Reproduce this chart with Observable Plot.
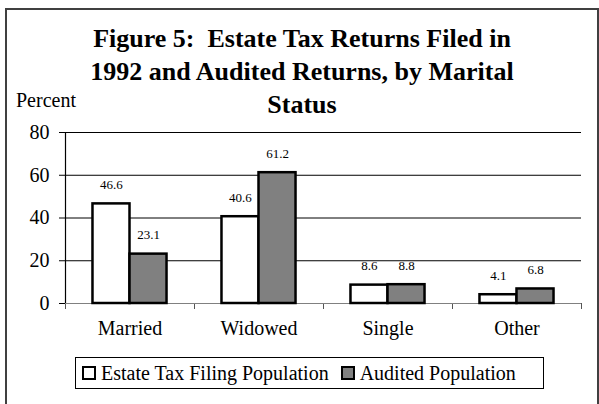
<!DOCTYPE html>
<html>
<head>
<meta charset="utf-8">
<script src="https://cdn.jsdelivr.net/npm/d3@7"></script>
<script src="https://cdn.jsdelivr.net/npm/@observablehq/plot@0.6"></script>
<style>
  html, body { margin: 0; padding: 0; background: #fff; overflow: hidden; }
  #wrap { position: relative; width: 599px; height: 404px; overflow: hidden; font-family: "Liberation Serif", "Times New Roman", serif; color: #000; }
  #border { position: absolute; left: 5px; top: 8px; width: 594px; height: 420px; border: 2px solid #404040; box-sizing: border-box; }
  #title { position: absolute; left: 0; width: 604px; top: 22px; text-align: center; font-weight: bold; font-size: 26px; line-height: 33px; }
  #ylabel { position: absolute; left: 16px; top: 90px; font-size: 20px; line-height: 20px; }
  #chart { position: absolute; left: 0; top: 118px; }
  #legend { position: absolute; left: 75px; top: 357px; width: 469px; height: 32px; border: 1px solid #000; box-sizing: border-box; display: flex; align-items: center; padding-left: 6px; font-size: 20px; white-space: nowrap; }
  .sw { display: inline-block; width: 14px; height: 14px; border: 2.5px solid #000; box-sizing: border-box; margin-right: 5px; }
  .item { display: flex; align-items: center; margin-right: 12px; }
</style>
</head>
<body>
<div id="wrap">
  <div id="border"></div>
  <div id="title">Figure 5:&nbsp; Estate Tax Returns Filed in<br>1992 and Audited Returns, by Marital<br>Status</div>
  <div id="ylabel">Percent</div>
  <div id="chart"></div>
  <div id="legend"></div>
</div>
<script>
// ---- data ----
const categories = ["Married", "Widowed", "Single", "Other"];
const seriesNames = ["Estate Tax Filing Population", "Audited Population"];
const estateValues = [46.6, 40.6, 8.6, 4.1];
const auditedValues = [23.1, 61.2, 8.8, 6.8];
const yTicks = [0, 20, 40, 60, 80];
const seriesColors = ["#ffffff", "#808080"];

// ---- table built from the arrays ----
const seriesValues = [estateValues, auditedValues];
const rows = [];
categories.forEach((c, i) => {
  seriesValues.forEach((vals, s) => {
    rows.push({category: c, index: i, series: seriesNames[s], s, value: vals[i]});
  });
});

const BAR = 0.287; // bar width as a fraction of a category slot
const x1 = d => d.index + 0.5 + (d.s - 1) * BAR;
const x2 = d => d.index + 0.5 + d.s * BAR;
const xc = d => d.index + 0.5 + (d.s - 0.5) * BAR;

const chart = Plot.plot({
  width: 599,
  height: 232,
  marginTop: 14,
  marginBottom: 47,
  marginLeft: 65,
  marginRight: 18,
  style: {fontFamily: "'Liberation Serif', 'Times New Roman', serif", color: "#000", background: "transparent", overflow: "visible"},
  x: {domain: [0, categories.length], axis: null},
  y: {domain: [0, 80], axis: null},
  color: {domain: seriesNames, range: seriesColors},
  marks: [
    Plot.gridY(yTicks.filter(t => t > 0), {stroke: "#000", strokeOpacity: 1, strokeWidth: 1}),
    Plot.axisY({ticks: yTicks, tickSize: 6, tickPadding: 10, fontSize: 20, label: null, stroke: "#000"}),
    Plot.axisX({ticks: d3.range(categories.length + 1), tickSize: 6, tickFormat: () => "", label: null, stroke: "#555"}),
    Plot.ruleY([0], {stroke: "#808080", strokeWidth: 1.2}),
    Plot.ruleX([0], {stroke: "#000", strokeWidth: 1.2}),
    Plot.rectY(rows, {x1, x2, y1: 0, y2: "value", fill: "series", stroke: "#000", strokeWidth: 2.5}),
    Plot.text(rows, {x: xc, y: "value", text: d => d.value.toFixed(1), dy: -15, lineAnchor: "bottom", fontSize: 13, fill: "#000"}),
    Plot.text(categories, {x: (d, i) => i + 0.5, frameAnchor: "bottom", text: d => d, dy: 31, fontSize: 20, fill: "#000"})
  ]
});
document.getElementById("chart").appendChild(chart);

// ---- legend ----
const legend = document.getElementById("legend");
seriesNames.forEach((name, s) => {
  const item = document.createElement("span");
  item.className = "item";
  const sw = document.createElement("span");
  sw.className = "sw";
  sw.style.background = seriesColors[s];
  item.appendChild(sw);
  item.appendChild(document.createTextNode(name));
  legend.appendChild(item);
});
</script>
</body>
</html>
